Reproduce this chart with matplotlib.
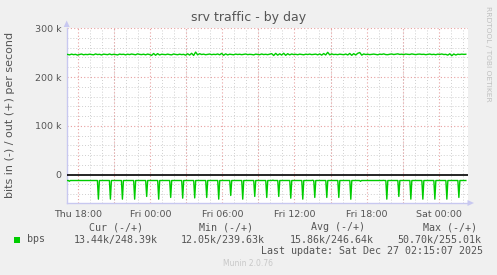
import matplotlib
matplotlib.use("Agg")
import matplotlib.pyplot as plt
from matplotlib.patches import Rectangle, Polygon
from matplotlib.ticker import MultipleLocator

# ---------------- data ----------------
title = "srv traffic - by day"
ylabel = "bits in (-) / out (+) per second"
xtick_hours = [0, 6, 12, 18, 24, 30]
xtick_labels = ["Thu 18:00", "Fri 00:00", "Fri 06:00", "Fri 12:00", "Fri 18:00", "Sat 00:00"]
ytick_values = [0, 100000, 200000, 300000]
ytick_labels = ["0", "100 k", "200 k", "300 k"]

# out (+) traffic, kbps, one sample every 10 minutes starting at -0.9 h (relative to Thu 18:00)
out_start_hour = -0.9
out_step_hour = 1 / 6
out_kbps = [
    246.3, 245.4, 246.9, 245.8, 246.5, 244.9, 246.2, 247.1, 245.6, 246.4,
    245.9, 246.8, 246.1, 245.5, 247.3, 246.0, 246.6, 245.2, 246.9, 246.3,
    245.8, 247.2, 245.7, 246.5, 246.1, 245.3, 247.0, 246.2, 246.7, 245.4,
    246.8, 245.9, 247.1, 246.3, 245.6, 247.4, 246.4, 245.9, 246.8, 245.5,
    247.0, 246.1, 244.3, 248.2, 244.6, 247.9, 245.2, 246.7, 246.2, 245.8,
    246.9, 246.0, 245.4, 247.2, 246.3, 245.7, 246.8, 245.9, 246.5, 244.8,
    247.6, 245.0, 248.6, 244.2, 251.1, 245.4, 247.8, 246.1, 246.9, 245.7,
    246.4, 247.1, 245.8, 246.6, 246.0, 247.2, 245.5, 248.4, 244.6, 247.5,
    245.3, 246.8, 246.2, 245.6, 247.0, 246.1, 246.7, 245.8, 246.4, 247.1,
    245.9, 246.5, 246.2, 245.4, 246.9, 246.3, 245.7, 247.2, 246.0, 246.6,
    245.8, 246.9, 247.9, 244.1, 248.5, 244.8, 247.6, 245.0, 248.7, 244.4,
    247.8, 245.3, 247.2, 246.0, 246.6, 245.7, 246.9, 246.2, 245.6, 246.8,
    246.1, 247.0, 245.9, 246.4, 246.9, 245.5, 247.3, 244.9, 248.1, 245.2,
    250.6, 245.4, 247.4, 246.0, 246.5, 245.8, 246.9, 246.2, 245.7, 247.1,
    245.2, 248.3, 244.5, 247.9, 245.1, 248.6, 250.2, 244.8, 247.3, 246.1,
    246.7, 245.9, 246.4, 247.0, 246.2, 245.6, 246.9, 246.3, 247.4, 246.0,
    245.8, 246.7, 247.2, 246.1, 246.9, 247.5, 246.3, 246.8, 245.9, 247.1,
    246.5, 246.2, 247.3, 246.6, 245.9, 246.8, 247.0, 246.3, 246.7, 245.8,
    246.4, 247.1, 246.0, 246.6, 245.7, 246.9, 246.3, 247.2, 246.1, 246.5,
    244.9, 247.6, 243.8, 247.2, 245.1, 246.8, 246.2, 246.9, 246.4, 246.7,
]

# in (-) traffic, kbps: baseline level plus hourly dips
in_start_hour = -0.9
in_end_hour = 32.27
in_base_kbps = 12.3
in_spike_hours = [1.67, 2.67, 3.67, 4.69, 5.69, 6.69, 7.69, 8.69, 9.69, 10.69,
                  11.69, 12.69, 13.69, 14.69, 15.69, 16.69, 17.69, 18.69, 19.69,
                  20.69, 21.69, 22.69, 25.69, 26.69, 27.69, 28.69, 29.69,
                  30.69, 31.69]
in_spike_kbps = [50.5, 50.5, 50.5, 50.5, 45.0, 50.5, 47.0, 48.5, 48.0, 47.0,
                 50.5, 43.0, 50.5, 45.0, 47.0, 45.0, 48.5, 50.5, 47.0,
                 47.0, 47.0, 50.7, 50.5, 45.0, 50.5, 50.5, 50.5,
                 50.5, 47.0]
in_bump_hours = [-0.75, 16.2, 19.5, 23.5, 25.4]
in_bump_kbps = [13.8, 11.6, 11.8, 13.9, 12.0]

legend_headers = ["Cur (-/+)", "Min (-/+)", "Avg (-/+)", "Max (-/+)"]
legend_values = ["13.44k/248.39k", "12.05k/239.63k", "15.86k/246.64k", "50.70k/255.01k"]
legend_name = "bps"
last_update = "Last update: Sat Dec 27 02:15:07 2025"
munin_version = "Munin 2.0.76"
side_text = "RRDTOOL / TOBI OETIKER"

# ---------------- build series ----------------
out_x = [out_start_hour + i * out_step_hour for i in range(len(out_kbps))]
out_y = [v * 1000 for v in out_kbps]

step = 1 / 12  # 5 min
events = {}
for h, v in zip(in_spike_hours, in_spike_kbps):
    events[h] = v
for h, v in zip(in_bump_hours, in_bump_kbps):
    events[h] = v
in_x = [in_start_hour]
in_y = [-in_base_kbps * 1000]
for h in sorted(events):
    in_x += [h - step, h, h + step]
    in_y += [-in_base_kbps * 1000, -events[h] * 1000, -in_base_kbps * 1000]
in_x.append(in_end_hour)
in_y.append(-in_base_kbps * 1000)

# ---------------- figure ----------------
W, H = 497, 275
fig = plt.figure(figsize=(W / 100, H / 100), dpi=100, facecolor="#F0F0F0")
L, R, T, B = 66.7, 468, 28, 203
ax = fig.add_axes([L / W, 1 - B / H, (R - L) / W, (B - T) / H])
ax.set_facecolor("white")

xmin, xmax = -0.97, 32.45
ymin, ymax = -58400, 300500
ax.set_xlim(xmin, xmax)
ax.set_ylim(ymin, ymax)

# grid
ax.xaxis.set_minor_locator(MultipleLocator(1))
ax.yaxis.set_minor_locator(MultipleLocator(20000))
ax.grid(which="minor", color="#cfcfcf", linestyle=(0, (1, 2)), linewidth=0.7)
for h in range(0, 33, 3):
    ax.axvline(h, color="#e8a0a0", linestyle=(0, (1, 2)), linewidth=0.8, zorder=1)
for yv in [100000, 200000, 300000]:
    ax.axhline(yv, color="#e8a0a0", linestyle=(0, (1, 2)), linewidth=0.8, zorder=1)
ax.set_axisbelow(True)

ax.plot(out_x, out_y, color="#00CC00", linewidth=1.0, zorder=3)
ax.plot(in_x, in_y, color="#00CC00", linewidth=1.0, zorder=3)
ax.axhline(0, color="black", linewidth=1.2, zorder=4)

ax.set_xticks(xtick_hours)
ax.set_xticklabels(xtick_labels)
ax.set_yticks(ytick_values)
ax.set_yticklabels(ytick_labels)
ax.tick_params(which="both", length=0, labelsize=6.8, colors="#555555", pad=4)
ax.tick_params(axis="x", pad=5)

for s in ["top", "right"]:
    ax.spines[s].set_visible(False)
for s in ["left", "bottom"]:
    ax.spines[s].set_color("#c8c8f0")
    ax.spines[s].set_linewidth(1.0)

# arrows
def px(x, y):
    return (x / W, 1 - y / H)

fig.patches.append(Polygon([px(63.7, 27), px(69.7, 27), px(66.7, 20.5)], closed=True,
                           transform=fig.transFigure, facecolor="#c8c8f0", edgecolor="none"))
fig.patches.append(Polygon([px(467.5, 200), px(467.5, 206), px(474, 203)], closed=True,
                           transform=fig.transFigure, facecolor="#c8c8f0", edgecolor="none"))

# texts
fig.text(248.4 / W, 1 - 18 / H, title, ha="center", va="center", fontsize=9, color="#555555")
fig.text(10.5 / W, 1 - 115 / H, ylabel, ha="center", va="center", rotation=90,
         fontsize=8, color="#555555")
fig.text(488 / W, 1 - 53.5 / H, side_text, ha="center", va="center", rotation=270,
         fontsize=5.4, color="#c0c0c0")

mono = "DejaVu Sans Mono"
hdr_x = [116, 226, 338.3, 449.7]
val_x = [115.5, 223, 332, 439.7]
for hx, t in zip(hdr_x, legend_headers):
    fig.text(hx / W, 1 - 227.5 / H, t, ha="center", va="center", fontsize=7.2,
             family=mono, color="#555555")
for vx, t in zip(val_x, legend_values):
    fig.text(vx / W, 1 - 239.5 / H, t, ha="center", va="center", fontsize=7.2,
             family=mono, color="#555555")
fig.patches.append(Rectangle(px(14, 242.5), 6 / W, 6 / H, transform=fig.transFigure,
                             facecolor="#00CC00", edgecolor="none"))
fig.text(26.7 / W, 1 - 239.5 / H, legend_name, ha="left", va="center", fontsize=7.2,
         family=mono, color="#555555")
fig.text(482.7 / W, 1 - 251 / H, last_update, ha="right", va="center", fontsize=7.2,
         family=mono, color="#555555")
fig.text(248 / W, 1 - 264 / H, munin_version, ha="center", va="center", fontsize=5.5,
         color="#c8c8c8")

fig.savefig("out.png", dpi=100, facecolor=fig.get_facecolor())
